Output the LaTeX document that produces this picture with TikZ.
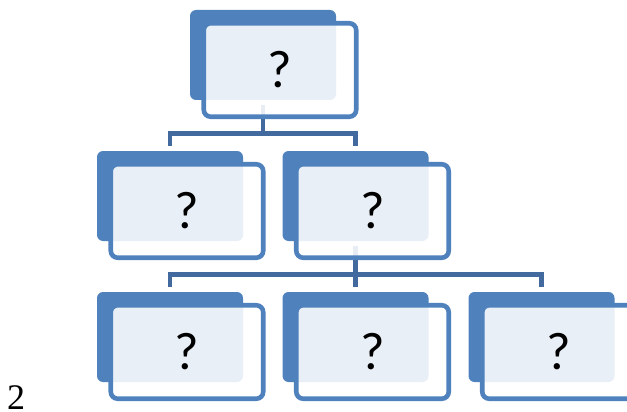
\documentclass[tikz,border=0pt]{standalone}
\usepackage{fontspec}
\setmainfont{Liberation Serif}
\newfontfamily\boxfont{Carlito}
\usetikzlibrary{calc,backgrounds}
\definecolor{boxblue}{RGB}{79,129,189}
\definecolor{linkblue}{RGB}{66,106,158}
\tikzset{
  backbox/.style={rectangle, rounded corners=6pt, fill=boxblue,
    minimum width=146pt, minimum height=90pt, inner sep=0pt, outer sep=0pt},
  frontbox/.style={rectangle, rounded corners=7pt, draw=boxblue, line width=4.6pt,
    fill=white, fill opacity=0.88, text opacity=1,
    minimum width=152.5pt, minimum height=93.5pt, inner sep=0pt, outer sep=0pt,
    font=\boxfont\fontsize{53}{53}\selectfont},
  conn/.style={draw=linkblue, line width=4.8pt}
}
% one chart entry: a solid tab behind a translucent framed card
\newcommand\orgbox[3]{%
  \node[backbox] (#1-b) at (#2,#3) {};
  \node[frontbox] (#1) at ($(#1-b)+(17,15)$) {?};
}
\begin{document}
\begin{tikzpicture}[x=1pt,y=-1pt]
\useasboundingbox (0,0) rectangle (627,412);
\clip (0,0) rectangle (627,412);
\orgbox{top}{263}{55}
\orgbox{ml}{170}{196}
\orgbox{mr}{355.5}{196}
\orgbox{bl}{170}{337}
\orgbox{bm}{355.5}{337}
\orgbox{br}{541.5}{337}
\coordinate (busA) at (0,133.5);
\coordinate (busB) at (0,274.5);
\begin{scope}[on background layer]
  \draw[conn] ([yshift=-5pt]top-b.south) -- (top-b.south |- busA);
  \draw[conn] ([yshift=5pt]ml-b.north) -- (ml-b.north |- busA)
     -- (mr-b.north |- busA) -- ([yshift=5pt]mr-b.north);
  \draw[conn] ([yshift=-5pt]mr-b.south) -- (mr-b.south |- busB);
  \draw[conn] ([yshift=5pt]bl-b.north) -- (bl-b.north |- busB)
     -- (br-b.north |- busB) -- ([yshift=5pt]br-b.north);
  \draw[conn] (bm-b.north |- busB) -- ([yshift=5pt]bm-b.north);
\end{scope}
\node[anchor=base west, inner sep=0pt, font=\fontsize{36}{36}\selectfont] (pagenum) at (7,409) {2};
\end{tikzpicture}
\end{document}
